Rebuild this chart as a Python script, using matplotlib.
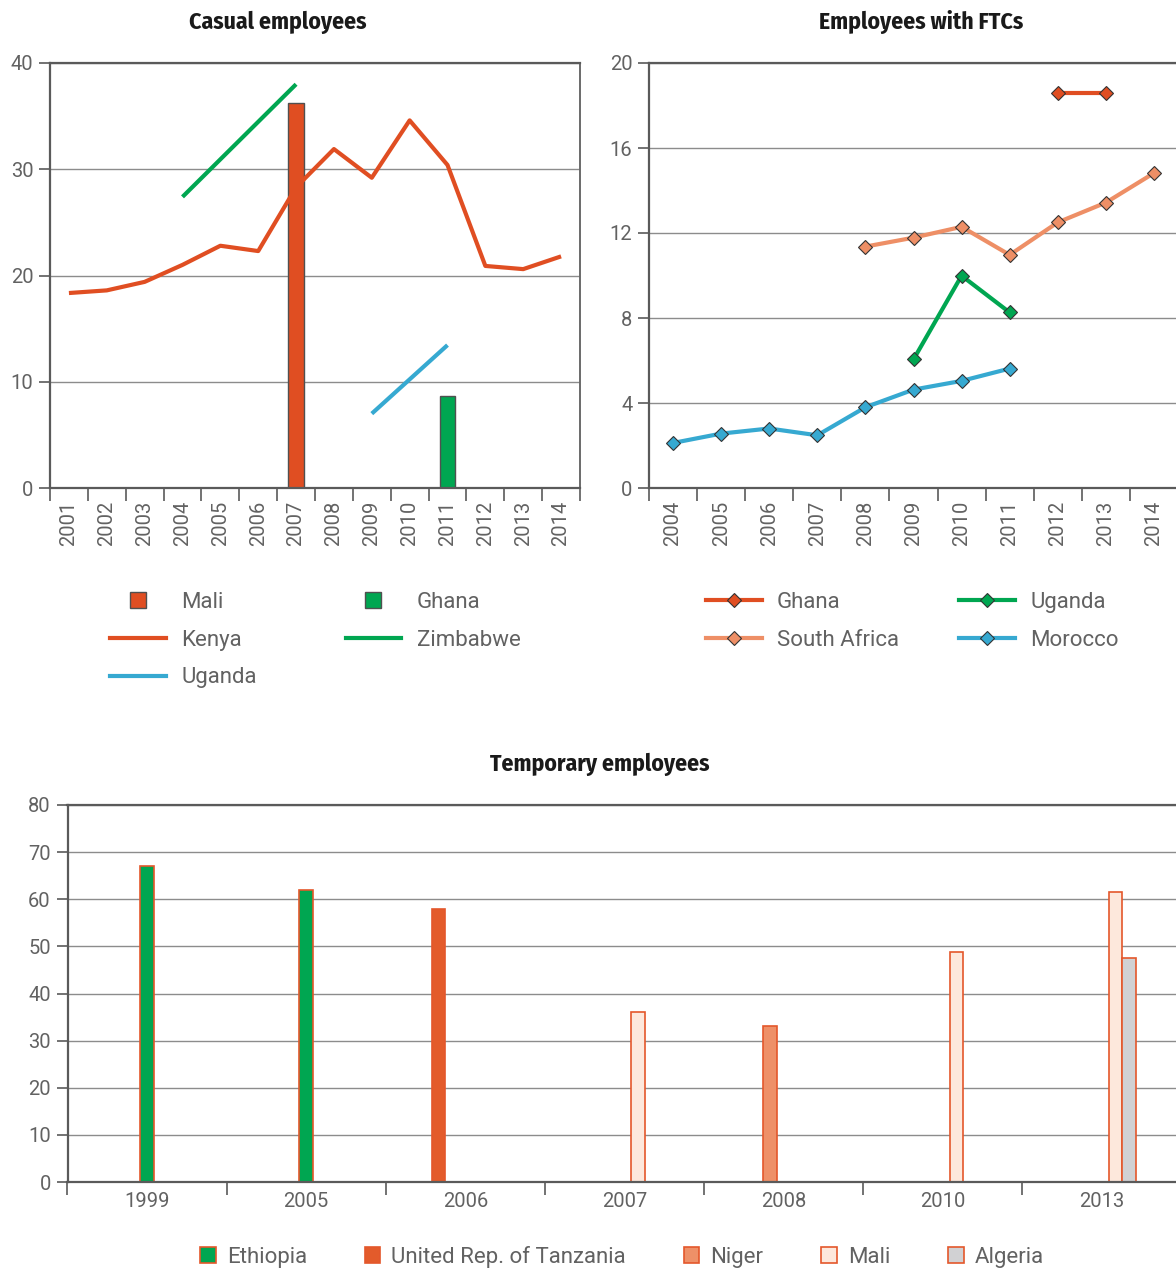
import numpy as np
import matplotlib
matplotlib.use("Agg")
import matplotlib.pyplot as plt
from matplotlib.lines import Line2D
from matplotlib.patches import Patch

# ---------------- data ----------------
casual_years = ["2001", "2002", "2003", "2004", "2005", "2006", "2007",
                "2008", "2009", "2010", "2011", "2012", "2013", "2014"]
casual_kenya = [18.35, 18.6, 19.4, 21.0, 22.8, 22.3, 28.3,
                31.9, 29.2, 34.6, 30.4, 20.9, 20.6, 21.8]
casual_zimbabwe = [np.nan, np.nan, np.nan, 27.4, np.nan, np.nan, 38.0,
                   np.nan, np.nan, np.nan, np.nan, np.nan, np.nan, np.nan]
casual_uganda = [np.nan, np.nan, np.nan, np.nan, np.nan, np.nan, np.nan,
                 np.nan, 7.0, np.nan, 13.45, np.nan, np.nan, np.nan]
casual_mali_bar = [np.nan, np.nan, np.nan, np.nan, np.nan, np.nan, 36.2,
                   np.nan, np.nan, np.nan, np.nan, np.nan, np.nan, np.nan]
casual_ghana_bar = [np.nan, np.nan, np.nan, np.nan, np.nan, np.nan, np.nan,
                    np.nan, np.nan, np.nan, 8.67, np.nan, np.nan, np.nan]

ftc_years = ["2004", "2005", "2006", "2007", "2008", "2009", "2010",
             "2011", "2012", "2013", "2014"]
ftc_ghana = [np.nan, np.nan, np.nan, np.nan, np.nan, np.nan, np.nan,
             np.nan, 18.6, 18.6, np.nan]
ftc_south_africa = [np.nan, np.nan, np.nan, np.nan, 11.36, 11.78, 12.29,
                    10.97, 12.5, 13.43, 14.82]
ftc_uganda = [np.nan, np.nan, np.nan, np.nan, np.nan, 6.05, 9.99,
              8.26, np.nan, np.nan, np.nan]
ftc_morocco = [2.12, 2.56, 2.80, 2.48, 3.80, 4.63, 5.04,
               5.62, np.nan, np.nan, np.nan]

temp_years = ["1999", "2005", "2006", "2007", "2008", "2010", "2013"]
temp_ethiopia = [67.0, 62.0, np.nan, np.nan, np.nan, np.nan, np.nan]
temp_tanzania = [np.nan, np.nan, 57.95, np.nan, np.nan, np.nan, np.nan]
temp_niger = [np.nan, np.nan, np.nan, np.nan, 33.1, np.nan, np.nan]
temp_mali = [np.nan, np.nan, np.nan, 36.1, np.nan, 48.8, 61.5]
temp_algeria = [np.nan, np.nan, np.nan, np.nan, np.nan, np.nan, 47.6]

# ---------------- style ----------------
RED = "#e04e22"
GREEN = "#00a651"
BLUE = "#36a9d1"
SALMON = "#ee8f66"
TZ = "#e35b2b"
NIGER = "#ee9068"
MALI_L = "#fde8dc"
ALG = "#d1d1d3"
GRID = "#8c8c8c"
SPINE = "#5a5a5a"
TXT = "#626262"

plt.rcParams["font.family"] = ["Roboto", "Liberation Sans", "DejaVu Sans"]
plt.rcParams["font.weight"] = "normal"
TITLE_FONT = dict(family=["Fira Sans Condensed", "PT Sans Narrow", "Roboto Condensed",
                          "Liberation Sans Narrow", "DejaVu Sans"],
                  weight="bold", size=17, color="#1a1a1a")

fig = plt.figure(figsize=(11.76, 12.71), dpi=100)
W, H = 1176.0, 1271.0


def rect(l, r, t, b):
    return [l / W, 1 - b / H, (r - l) / W, (b - t) / H]


def style_axes(ax, ymax, yticks, ncat, rotate, right_spine=True):
    ax.set_ylim(0, ymax)
    ax.set_xlim(-0.5, ncat - 0.5)
    ax.set_yticks(yticks)
    ax.grid(axis="y", color=GRID, lw=1.0)
    ax.set_axisbelow(True)
    for s in ["left", "bottom", "top"]:
        ax.spines[s].set_color(SPINE)
        ax.spines[s].set_linewidth(1.6)
    ax.spines["right"].set_visible(right_spine)
    ax.spines["right"].set_color("#6a6a6a")
    ax.spines["right"].set_linewidth(1.4)
    ax.tick_params(axis="y", length=8, width=1.2, color=SPINE, labelsize=14.5,
                   labelcolor=TXT, pad=4)
    ax.set_xticks(np.arange(ncat))
    ax.set_xticks(np.arange(ncat + 1) - 0.5, minor=True)
    ax.tick_params(axis="x", which="major", length=0, labelsize=14.5,
                   labelcolor=TXT, pad=9 if rotate else 7)
    ax.tick_params(axis="x", which="minor", length=9, width=1.2, color=SPINE)


# ---------------- Casual employees ----------------
ax1 = fig.add_axes(rect(50, 580, 63, 488))
x1 = np.arange(len(casual_years))
ax1.bar(x1, casual_mali_bar, width=0.42, color=RED, edgecolor="#505050", lw=1, zorder=2)
ax1.bar(x1, casual_ghana_bar, width=0.42, color=GREEN, edgecolor="#505050", lw=1, zorder=2)
for vals, col in [(casual_kenya, RED), (casual_zimbabwe, GREEN), (casual_uganda, BLUE)]:
    v = np.array(vals, dtype=float)
    m = ~np.isnan(v)
    ax1.plot(x1[m], v[m], color=col, lw=3, zorder=3, solid_capstyle="butt")
style_axes(ax1, 40, [0, 10, 20, 30, 40], len(casual_years), True)
ax1.set_xticklabels(casual_years, rotation=90)
fig.text(278 / W, 1 - 22 / H, "Casual employees", ha="center", va="center", **TITLE_FONT)

# ---------------- Employees with FTCs ----------------
ax2 = fig.add_axes(rect(649, 1178, 63, 488))
x2 = np.arange(len(ftc_years))
for vals, col in [(ftc_ghana, RED), (ftc_south_africa, SALMON),
                  (ftc_uganda, GREEN), (ftc_morocco, BLUE)]:
    v = np.array(vals, dtype=float)
    m = ~np.isnan(v)
    ax2.plot(x2[m], v[m], color=col, lw=3, marker="D", markersize=7.5,
             mfc=col, mec="#333333", mew=0.8, zorder=3)
style_axes(ax2, 20, [0, 4, 8, 12, 16, 20], len(ftc_years), True, right_spine=False)
ax2.set_xticklabels(ftc_years, rotation=90)
fig.text(921 / W, 1 - 22 / H, "Employees with FTCs", ha="center", va="center", **TITLE_FONT)

# ---------------- Temporary employees ----------------
ax3 = fig.add_axes(rect(67.5, 1181.5, 805, 1182))
x3 = np.arange(len(temp_years))
bw = 0.085
series = [
    (temp_tanzania, TZ, -2),
    (temp_niger, NIGER, -1),
    (temp_ethiopia, GREEN, 0),
    (temp_mali, MALI_L, 1),
    (temp_algeria, ALG, 2),
]
for vals, col, off in series:
    ax3.bar(x3 + off * bw, vals, width=bw, color=col, edgecolor="#e4572b", lw=1.2, zorder=2)
style_axes(ax3, 80, list(range(0, 81, 10)), len(temp_years), False, right_spine=False)
ax3.set_xticklabels(temp_years)
fig.text(600 / W, 1 - 764 / H, "Temporary employees", ha="center", va="center", **TITLE_FONT)

# ---------------- legends ----------------
leg_font = dict(size=16, weight="normal")
h1 = [
    Line2D([], [], marker="s", ls="none", markersize=12, mfc=RED, mec="#505050", mew=1),
    Line2D([], [], color=RED, lw=3),
    Line2D([], [], color=BLUE, lw=3),
    Line2D([], [], marker="s", ls="none", markersize=12, mfc=GREEN, mec="#505050", mew=1),
    Line2D([], [], color=GREEN, lw=3),
]
l1 = ["Mali", "Kenya", "Uganda", "Ghana", "Zimbabwe"]
leg1 = fig.legend(h1, l1, loc="upper left", bbox_to_anchor=(110 / W, 1 - 592 / H),
                  ncol=2, frameon=False, prop=leg_font, handlelength=2.5,
                  handletextpad=0.7, columnspacing=4.0, labelspacing=0.75,
                  borderaxespad=0, borderpad=0)
for t in leg1.get_texts():
    t.set_color(TXT)

def dline(col):
    return Line2D([], [], color=col, lw=3, marker="D", markersize=7.5, mfc=col,
                  mec="#333333", mew=0.8)

h2 = [dline(RED), dline(SALMON), dline(GREEN), dline(BLUE)]
l2 = ["Ghana", "South Africa", "Uganda", "Morocco"]
leg2 = fig.legend(h2, l2, loc="upper left", bbox_to_anchor=(706 / W, 1 - 592 / H),
                  ncol=2, frameon=False, prop=leg_font, handlelength=2.5,
                  handletextpad=0.7, columnspacing=2.7, labelspacing=0.75,
                  borderaxespad=0, borderpad=0, numpoints=1)
for t in leg2.get_texts():
    t.set_color(TXT)

h3 = [Patch(facecolor=GREEN, edgecolor="#e4572b", lw=1.2),
      Patch(facecolor=TZ, edgecolor="#e4572b", lw=1.2),
      Patch(facecolor=NIGER, edgecolor="#e4572b", lw=1.2),
      Patch(facecolor=MALI_L, edgecolor="#e4572b", lw=1.2),
      Patch(facecolor=ALG, edgecolor="#e4572b", lw=1.2)]
l3 = ["Ethiopia", "United Rep. of Tanzania", "Niger", "Mali", "Algeria"]
leg3 = fig.legend(h3, l3, loc="center", bbox_to_anchor=(622 / W, 1 - 1257 / H),
                  ncol=5, frameon=False, prop=leg_font, handlelength=0.7,
                  handleheight=0.7, handletextpad=0.5, columnspacing=2.6,
                  borderaxespad=0, borderpad=0)
for t in leg3.get_texts():
    t.set_color(TXT)

fig.savefig("out.png", dpi=100)
